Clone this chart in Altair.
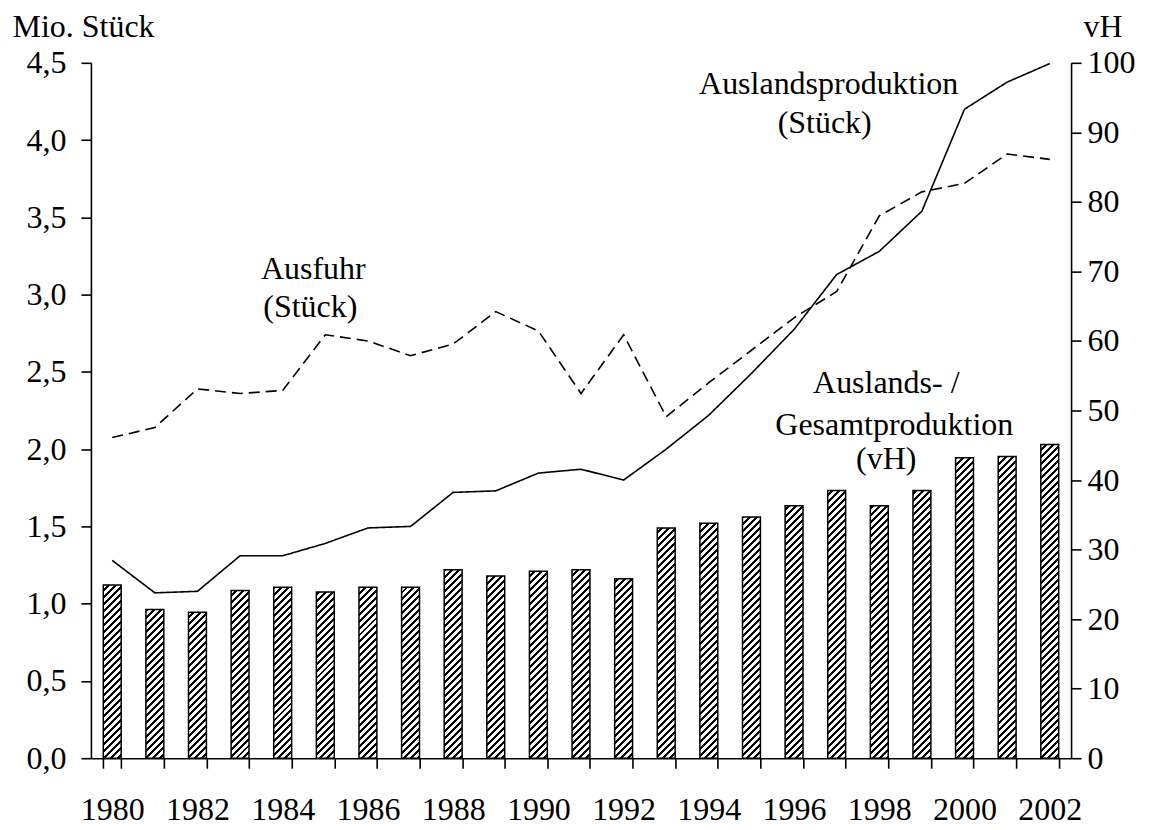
import altair as alt

# ---------------- data ----------------
years = [str(y) for y in range(1980, 2003)]
anteil_vh = [24.9, 21.4, 21.0, 24.1, 24.6, 23.9, 24.6, 24.6, 27.1, 26.2, 26.9, 27.1,
             25.8, 33.1, 33.8, 34.7, 36.3, 38.5, 36.3, 38.5, 43.2, 43.4, 45.1]
auslandsproduktion = [1.28, 1.07, 1.08, 1.31, 1.31, 1.39, 1.49, 1.50, 1.72, 1.73, 1.845, 1.87,
                      1.80, 2.00, 2.22, 2.49, 2.775, 3.13, 3.28, 3.54, 4.20, 4.375, 4.495]
ausfuhr = [2.075, 2.14, 2.39, 2.36, 2.38, 2.74, 2.70, 2.605, 2.68, 2.89, 2.765, 2.36,
           2.74, 2.21, 2.43, 2.64, 2.85, 3.02, 3.51, 3.665, 3.72, 3.91, 3.875]

left_ticks = [0, 0.5, 1.0, 1.5, 2.0, 2.5, 3.0, 3.5, 4.0, 4.5]
right_ticks = [0, 10, 20, 30, 40, 50, 60, 70, 80, 90, 100]

# annotation texts, anchored at (year, Mio. Stück)
ann_text = ["Ausfuhr", "(Stück)", "Auslandsproduktion", "(Stück)",
            "Auslands- /", "Gesamtproduktion", "(vH)"]
ann_year = ["1985", "1985", "1997", "1997", "1998", "1998", "1998"]
ann_value = [3.10, 2.857, 4.30, 4.045, 2.362, 2.092, 1.87]

# ---------------- layout / style ----------------
W, H = 981, 696
FONT = "Liberation Serif"
FS = 32
PAD_IN, PAD_OUT = 0.58, 0.29
ann_dx = [-12, -15, -8, -12, 7, 15, 7]

# hatch pattern (diagonal "/") built as a hard-stop linear gradient per bar
step = W / len(years)
bar_w = step * (1 - PAD_IN)
PITCH, INK = 7.0, 3.0


def hatch(value, i):
    h = max(value / 100.0 * H, 1.0)
    w = bar_w
    L = w + h
    k = L / (w * w + h * h)
    x0 = (PAD_OUT + i) * step
    phase = (x0 + (H - h)) % PITCH
    stops = [{"offset": 0.0, "color": "white"}]
    s = -phase
    while s < L:
        a = max(s, 0.0) / L
        b = min(s + INK, L) / L
        if b > 0:
            stops.append({"offset": a, "color": "white"})
            stops.append({"offset": a, "color": "black"})
            stops.append({"offset": b, "color": "black"})
            stops.append({"offset": b, "color": "white"})
        s += PITCH
    stops.append({"offset": 1.0, "color": "white"})
    return {"gradient": "linear", "x1": 0, "y1": 0, "x2": k * w, "y2": k * h, "stops": stops}


bar_values = [{"year": y, "vh": v, "grad": hatch(v, i)}
              for i, (y, v) in enumerate(zip(years, anteil_vh))]
line_values = (
    [{"year": y, "mio": v, "series": "Auslandsproduktion"} for y, v in zip(years, auslandsproduktion)]
    + [{"year": y, "mio": v, "series": "Ausfuhr"} for y, v in zip(years, ausfuhr)]
)

x_scale = alt.Scale(paddingInner=PAD_IN, paddingOuter=PAD_OUT)
x_axis = alt.Axis(
    title=None, tickBand="extent", tickSize=10, labelPadding=26,
    labelExpr="toNumber(datum.value) % 2 == 0 ? datum.label : ''",
    labelOverlap=False, labelAngle=0,
)

bars = alt.Chart(alt.Data(values=bar_values)).mark_bar(
    stroke="black", strokeWidth=1.5
).encode(
    x=alt.X("year:O", scale=x_scale, axis=x_axis),
    y=alt.Y("vh:Q", scale=alt.Scale(domain=[0, 100], nice=False),
            axis=alt.Axis(orient="right", values=right_ticks, tickSize=10, labelPadding=6,
                          title="vH", titleAngle=0, titleAlign="left",
                          titleBaseline="alphabetic", titleX=12, titleY=-26)),
    fill=alt.Fill("grad:N", scale=None, legend=None),
)

y_left = alt.Scale(domain=[0, 4.5], nice=False)
lines = alt.Chart(alt.Data(values=line_values)).mark_line(color="black", strokeWidth=1.6).encode(
    x=alt.X("year:O", scale=x_scale, axis=x_axis),
    y=alt.Y("mio:Q", scale=y_left,
            axis=alt.Axis(orient="left", values=left_ticks, tickSize=10, labelPadding=15,
                          labelExpr="replace(format(datum.value, '.1f'), '.', ',')",
                          title="Mio. Stück", titleAngle=0, titleAlign="left",
                          titleBaseline="alphabetic", titleX=-79, titleY=-26)),
    strokeDash=alt.StrokeDash("series:N",
                              scale=alt.Scale(domain=["Auslandsproduktion", "Ausfuhr"],
                                              range=[[1, 0], [11, 6]]),
                              legend=None),
    strokeWidth=alt.StrokeWidth("series:N",
                                scale=alt.Scale(domain=["Auslandsproduktion", "Ausfuhr"],
                                                range=[1.6, 2.2]),
                                legend=None),
    detail="series:N",
)

texts = []
for t, yr, v, dx in zip(ann_text, ann_year, ann_value, ann_dx):
    texts.append(
        alt.Chart(alt.Data(values=[{"year": yr, "mio": v, "label": t}])).mark_text(
            font=FONT, fontSize=FS, color="black", align="center", baseline="alphabetic", dx=dx
        ).encode(
            x=alt.X("year:O", scale=x_scale, axis=x_axis),
            y=alt.Y("mio:Q", scale=y_left),
            text="label:N",
        )
    )

inner = alt.layer(lines, *texts)

chart = alt.layer(bars, inner).resolve_scale(y="independent").properties(
    width=W, height=H,
    autosize=alt.AutoSizeParams(type="none"),
    padding={"left": 83, "top": 54.5, "right": 70, "bottom": 74},
).configure_view(stroke=None).configure_axis(
    labelFont=FONT, titleFont=FONT, labelFontSize=FS, titleFontSize=FS,
    labelColor="black", titleColor="black", titleFontWeight="normal",
    domainColor="black", tickColor="black", domainWidth=1.6, tickWidth=1.6,
    grid=False,
)

chart.save("out.html", embed_options={"renderer": "svg", "actions": False})
